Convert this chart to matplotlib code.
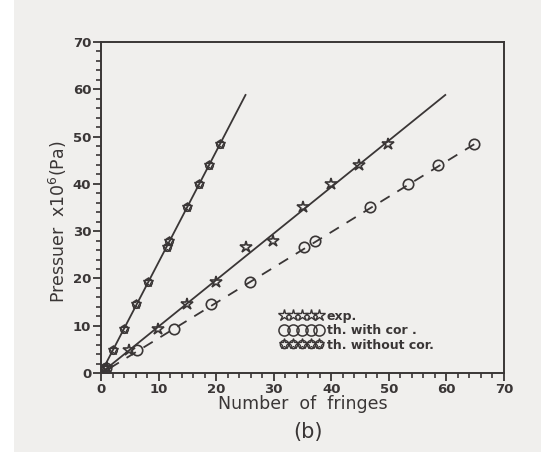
import matplotlib
matplotlib.use("Agg")
import matplotlib.pyplot as plt
from matplotlib.lines import Line2D
from matplotlib.legend_handler import HandlerTuple
from matplotlib.patches import Rectangle
from matplotlib.ticker import MultipleLocator

# ---- data ----
pressure = [1.0, 4.8, 9.2, 14.5, 19.3, 26.6, 27.9, 35.1, 40.0, 44.0, 48.4]
fringes_exp = [1.0, 4.8, 9.9, 15.0, 19.9, 25.1, 29.9, 35.0, 40.0, 44.9, 49.8]
fringes_with_cor = [0.9, 6.3, 12.6, 19.1, 25.9, 35.3, 37.1, 46.7, 53.3, 58.6, 64.8]
fringes_without_cor = [0.6, 2.1, 4.0, 6.1, 8.2, 11.5, 11.8, 15.0, 17.1, 18.7, 20.7]

fit_exp_x = [0.0, 59.8]
fit_exp_y = [0.0, 58.8]
fit_with_x = [1.5, 65.0]
fit_with_y = [1.0, 48.5]
fit_without_x = [0.0, 25.1]
fit_without_y = [0.0, 58.8]

labels = ["exp.", "th. with cor .", "th. without cor."]
xticks = [0, 10, 20, 30, 40, 50, 60, 70]
yticks = [0, 10, 20, 30, 40, 50, 60, 70]

paper = "#f0efed"
ink = "#3a3636"

W, H = 541, 455
fig = plt.figure(figsize=(W / 100, H / 100), dpi=100, facecolor="white")
fig.patches.append(Rectangle((14 / W, 3 / H), 1 - 14 / W, 1 - 3 / H,
                             transform=fig.transFigure, facecolor=paper,
                             edgecolor="none", zorder=-10))

ax = fig.add_axes([101 / W, 1 - 373 / H, 403 / W, 331 / H])
ax.set_facecolor(paper)

# fitted lines
ax.plot(fit_without_x, fit_without_y, color=ink, lw=1.3)
ax.plot(fit_exp_x, fit_exp_y, color=ink, lw=1.3)
ax.plot(fit_with_x, fit_with_y, color=ink, lw=1.3, dashes=(6, 5))

# markers
ax.plot(fringes_exp, pressure, ls="none", marker="*", ms=9, mfc="none",
        mec=ink, mew=1.2)
ax.plot(fringes_with_cor, pressure, ls="none", marker="o", ms=7.5, mfc="none",
        mec=ink, mew=1.2)
ax.plot(fringes_without_cor, pressure, ls="none", marker="o", ms=5.5, mfc="none",
        mec=ink, mew=1.1)
ax.plot(fringes_without_cor, pressure, ls="none", marker="*", ms=7.5, mfc="none",
        mec=ink, mew=1.0)

ax.set_xlim(0, 70)
ax.set_ylim(0, 70)
ax.set_xticks(xticks)
ax.set_yticks(yticks)
ax.xaxis.set_minor_locator(MultipleLocator(2))
ax.yaxis.set_minor_locator(MultipleLocator(2))
ax.tick_params(which="major", direction="out", length=6, width=1.3,
               color=ink, labelcolor=ink, labelsize=9.5, pad=1)
ax.tick_params(which="minor", direction="out", length=3.5, width=1.2,
               color=ink)
ax.tick_params(top=False, right=False, which="both")
for lab in ax.get_xticklabels() + ax.get_yticklabels():
    lab.set_fontweight("bold")
for s in ax.spines.values():
    s.set_color(ink)
    s.set_linewidth(1.4)

ax.set_xlabel("Number  of  fringes", fontsize=12.5, color=ink)
ax.xaxis.set_label_coords(0.5, -0.066)
ax.set_ylabel("Pressuer  x10$^{6}$(Pa)", fontsize=12.5, color=ink)
ax.yaxis.set_label_coords(-0.08, 0.456)

# legend
h_exp = Line2D([], [], ls="none", marker="*", ms=9, mfc="none", mec=ink, mew=1.0)
h_with = Line2D([], [], ls="none", marker="o", ms=8, mfc="none", mec=ink, mew=1.1)
h_wo1 = Line2D([], [], ls="none", marker="o", ms=6, mfc="none", mec=ink, mew=1.0)
h_wo2 = Line2D([], [], ls="none", marker="*", ms=8, mfc="none", mec=ink, mew=0.9)
leg = ax.legend([h_exp, h_with, (h_wo1, h_wo2)], labels,
                handler_map={tuple: HandlerTuple(ndivide=1, pad=0)},
                numpoints=5, handlelength=3.4, handletextpad=0.3,
                labelspacing=0.12, frameon=False, borderpad=0,
                loc="upper left", bbox_to_anchor=(0.43, 0.21),
                prop={"size": 9, "weight": "bold"})
for t in leg.get_texts():
    t.set_color(ink)

fig.text(308 / W, 1 - 432 / H, "(b)", fontsize=15, color=ink,
         ha="center", va="center")

fig.savefig("out.png", dpi=100, facecolor=fig.get_facecolor())
